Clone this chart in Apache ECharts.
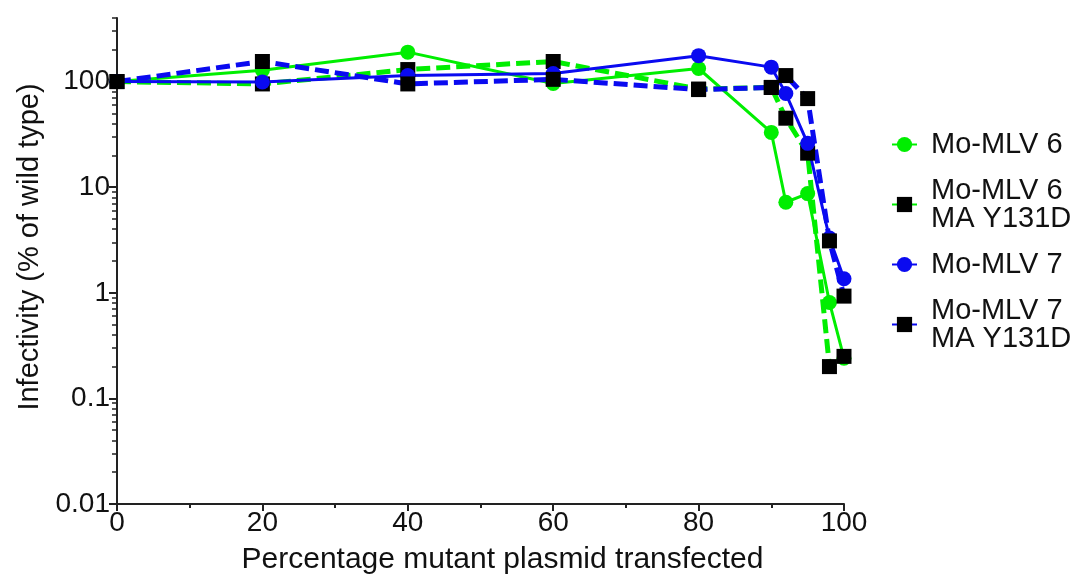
<!DOCTYPE html>
<html>
<head>
<meta charset="utf-8">
<script src="https://cdn.jsdelivr.net/npm/echarts@6/dist/echarts.min.js"></script>
<style>
  html, body { margin: 0; padding: 0; background: #fff; }
  #chart { width: 1077px; height: 576px; }
</style>
</head>
<body>
<div id="chart"></div>
<script>
// Percentage of mutant plasmid in the transfection mix
const percentMutant = [0, 20, 40, 60, 80, 90, 92, 95, 98, 100];

// Infectivity, % of wild type
const moMLV6 = [100, 128, 190, 96, 133, 33, 7.2, 8.7, 0.81, 0.24];
const moMLV6MA = [100, 95, 130, 155, 85, 88, 45, 21, 0.2, 0.25];
const moMLV7 = [100, 99, 114, 119, 176, 137, 77, 26, 3.3, 1.36];
const moMLV7MA = [100, 155, 95, 105, 84, 88, 114, 69, 3.1, 0.93];

const seriesNames = ['Mo-MLV 6', 'Mo-MLV 6 MA Y131D', 'Mo-MLV 7', 'Mo-MLV 7 MA Y131D'];

// Axis ticks
const yMajorTicks = [0.01, 0.1, 1, 10, 100];
const yMinorTicks = [];
[0.01, 0.1, 1, 10].forEach(function (d) {
  for (let k = 2; k <= 9; k++) yMinorTicks.push(+(d * k).toPrecision(3));
});
yMinorTicks.push(200, 300, 400);

const FONT = "'Liberation Sans', Arial, sans-serif";
const GREEN = '#00ee00';
const BLUE = '#0a0af0';

function pairs(ys) {
  return percentMutant.map(function (x, i) { return [x, ys[i]]; });
}

function solidSeries(name, ys, color) {
  return {
    name: name, type: 'line', data: pairs(ys),
    symbol: 'circle', symbolSize: 15,
    lineStyle: { color: color, width: 3 },
    itemStyle: { color: color },
    emphasis: { disabled: true }
  };
}
function dashedSeries(name, ys, color) {
  return {
    name: name, type: 'line', data: pairs(ys),
    symbol: 'rect', symbolSize: 15,
    lineStyle: { color: color, width: 5, type: [14, 6] },
    itemStyle: { color: '#000' },
    emphasis: { disabled: true }
  };
}

const chart = echarts.init(document.getElementById('chart'), null, { renderer: 'canvas' });

chart.setOption({
  animation: false,
  backgroundColor: '#fff',
  textStyle: { fontFamily: FONT },
  grid: { left: 117, right: 233, top: 18, bottom: 72, containLabel: false, outerBoundsMode: 'none' },
  legend: {
    orient: 'vertical',
    left: 886, top: 125,
    itemWidth: 25, itemHeight: 19, itemGap: 17,
    data: seriesNames,
    formatter: function (n) { return n.replace(' MA ', '\nMA '); },
    textStyle: { fontFamily: FONT, fontSize: 29, lineHeight: 28, color: '#111', padding: [0, 0, 0, 9] }
  },
  xAxis: {
    type: 'value', min: 0, max: 100, interval: 20,
    name: 'Percentage mutant plasmid transfected',
    nameLocation: 'middle', nameGap: 41,
    nameTextStyle: { fontFamily: FONT, fontSize: 30, color: '#111', padding: [0, 0, 0, 44] },
    axisLine: { lineStyle: { color: '#222', width: 2 } },
    axisTick: { show: true, length: 7, lineStyle: { color: '#222', width: 2 } },
    minorTick: { show: true, splitNumber: 2, length: 4, lineStyle: { color: '#222', width: 2 } },
    axisLabel: { fontFamily: FONT, fontSize: 28, color: '#111', margin: 5 },
    splitLine: { show: false }
  },
  yAxis: [{
    type: 'log', logBase: 10, min: 0.01, max: 400,
    name: 'Infectivity (% of wild type)',
    nameLocation: 'middle', nameGap: 67,
    nameTextStyle: { fontFamily: FONT, fontSize: 29, color: '#111', padding: [0, 0, 0, 28] },
    axisLine: { show: true, lineStyle: { color: '#222', width: 2 } },
    axisTick: { show: true, length: 8, customValues: yMajorTicks, lineStyle: { color: '#222', width: 2 } },
    axisLabel: {
      fontFamily: FONT, fontSize: 28, color: '#111', margin: 7,
      customValues: yMajorTicks,
      formatter: function (v) { return String(+v.toPrecision(3)); }
    },
    splitLine: { show: false }
  }, {
    // minor log ticks
    type: 'log', logBase: 10, min: 0.01, max: 400,
    position: 'left', offset: 0,
    axisLine: { show: false },
    axisTick: { show: true, length: 5, customValues: yMinorTicks, lineStyle: { color: '#222', width: 1.5 } },
    axisLabel: { show: false },
    splitLine: { show: false }
  }],
  series: [
    solidSeries(seriesNames[0], moMLV6, GREEN),
    dashedSeries(seriesNames[1], moMLV6MA, GREEN),
    solidSeries(seriesNames[2], moMLV7, BLUE),
    dashedSeries(seriesNames[3], moMLV7MA, BLUE)
  ]
});
</script>
</body>
</html>
